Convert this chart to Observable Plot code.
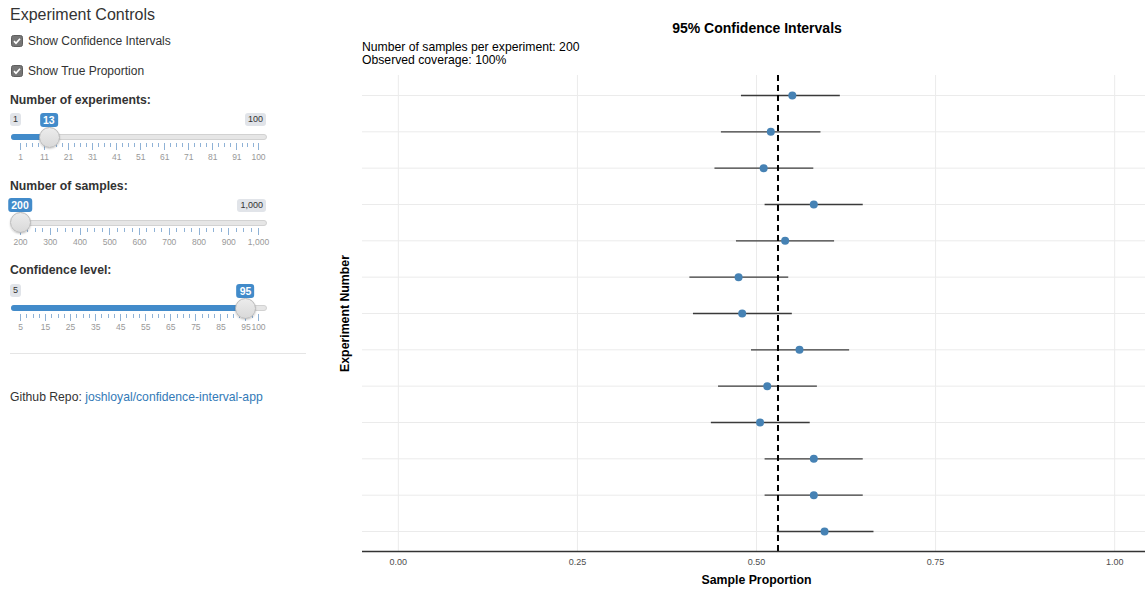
<!DOCTYPE html>
<html>
<head>
<meta charset="utf-8">
<script src="https://cdn.jsdelivr.net/npm/d3@7"></script>
<script src="https://cdn.jsdelivr.net/npm/@observablehq/plot@0.6"></script>
<style>
  body { margin:0; width:1145px; height:589px; overflow:hidden; background:#fff;
         font-family:"Liberation Sans", Arial, Helvetica, sans-serif; color:#333; position:relative; }
  .abs { position:absolute; white-space:nowrap; }
  .h { font-weight:bold; font-size:12.25px; line-height:16px; color:#333; }
  .box { position:absolute; height:13px; line-height:13px; font-size:9px; padding:0 3px; border-radius:3px;
         background:#e1e4e9; color:#333; }
  .box.val { background:#428bca; color:#fff; font-weight:bold; font-size:10.5px; height:14px; line-height:14px; }
  .track { position:absolute; height:6px; background:#e6e6e6; border:1px solid #d2d2d2; border-radius:4px; box-sizing:border-box; }
  .fill { position:absolute; height:6px; background:#428bca; border-radius:4px 0 0 4px; }
  .handle { position:absolute; width:21px; height:21px; border-radius:50%; border:1px solid #b8b8b8; box-sizing:border-box;
            background:linear-gradient(#ececec,#d9d9d9); box-shadow:0 1px 2px rgba(0,0,0,0.2); }
  .tick { position:absolute; width:1px; background:#8fb2d6; }
  .tl { position:absolute; font-size:8.5px; color:#999; line-height:10px; transform:translateX(-50%); }
  #chart svg { max-width:none; }
</style>
</head>
<body>
<div class="abs" style="left:10px;top:5px;font-size:16px;line-height:20px;color:#333;">Experiment Controls</div>
<svg class="abs" style="left:11px;top:35px" width="12" height="12"><rect x="0.5" y="0.5" width="11" height="11" rx="2" fill="#767676" stroke="#5e5e5e"/><path d="M3 6.2 L5 8.3 L9 3.8" fill="none" stroke="#fff" stroke-width="1.7"/></svg>
<div class="abs" style="left:28px;top:33px;font-size:12px;line-height:16px;">Show Confidence Intervals</div>
<svg class="abs" style="left:11px;top:64.5px" width="12" height="12"><rect x="0.5" y="0.5" width="11" height="11" rx="2" fill="#767676" stroke="#5e5e5e"/><path d="M3 6.2 L5 8.3 L9 3.8" fill="none" stroke="#fff" stroke-width="1.7"/></svg>
<div class="abs" style="left:28px;top:62.5px;font-size:12px;line-height:16px;">Show True Proportion</div>

<div class="abs h" style="left:10px;top:91.5px;">Number of experiments:</div>
<div class="abs h" style="left:10px;top:178px;">Number of samples:</div>
<div class="abs h" style="left:10px;top:262px;">Confidence level:</div>
<div id="sliders"></div>
<div class="abs" style="left:10px;top:353px;width:296px;border-top:1px solid #e5e5e5;"></div>
<div class="abs" style="left:10px;top:388.5px;font-size:12.2px;line-height:16px;">Github Repo: <span style="color:#337ab7">joshloyal/confidence-interval-app</span></div>

<div class="abs" style="left:757px;top:19px;transform:translateX(-50%);font-weight:bold;font-size:14px;line-height:18px;color:#000;">95% Confidence Intervals</div>
<div class="abs" style="left:362px;top:40.5px;font-size:12.2px;line-height:13px;color:#000;">Number of samples per experiment: 200<br>Observed coverage: 100%</div>
<div id="chart" class="abs" style="left:330px;top:65px;width:820px;height:524px;"></div>

<script>
// ---- chart data (experiment 1 at bottom) ----
const experiments = [1,2,3,4,5,6,7,8,9,10,11,12,13];
const proportions = [0.595,0.58,0.58,0.505,0.515,0.56,0.48,0.475,0.54,0.58,0.51,0.52,0.55];
const lower       = [0.529,0.512,0.512,0.437,0.447,0.493,0.412,0.407,0.472,0.512,0.442,0.451,0.479];
const upper       = [0.664,0.649,0.649,0.575,0.585,0.630,0.550,0.545,0.609,0.649,0.580,0.590,0.617];
const trueProportion = 0.53;
const xTicks = [0, 0.25, 0.5, 0.75, 1];

// ---- slider controls ----
const sliderExperiments = {min:1, max:100, value:13, labels:[1,11,21,31,41,51,61,71,81,91,100], minText:"1", maxText:"100", valText:"13"};
const sliderSamples = {min:200, max:1000, value:200, labels:[200,300,400,500,600,700,800,900,1000], minText:"200", maxText:"1,000", valText:"200"};
const sliderConfidence = {min:5, max:100, value:95, labels:[5,15,25,35,45,55,65,75,85,95,100], minText:"5", maxText:"100", valText:"95"};

function slider(cfg, boxY, trackY, tickY, labelY, hideMin, hideMax) {
  const root = document.getElementById("sliders");
  const pos = v => 20 + (v - cfg.min) / (cfg.max - cfg.min) * 238;
  const add = (html) => root.insertAdjacentHTML("beforeend", html);
  const hx = pos(cfg.value);
  add(`<div class="track" style="left:11px;width:256px;top:${trackY-3}px"></div>`);
  if (hx > 20) add(`<div class="fill" style="left:11px;width:${hx-11}px;top:${trackY-3}px"></div>`);
  const fmt = d3.format(",");
  for (let i = 0; i < cfg.labels.length; i++) {
    const v = cfg.labels[i], x = pos(v);
    add(`<div class="tick" style="left:${x}px;top:${tickY}px;height:7px"></div>`);
    add(`<div class="tl" style="left:${x+0.5}px;top:${labelY-5}px">${fmt(v)}</div>`);
    if (i < cfg.labels.length - 1) {
      const x2 = pos(cfg.labels[i+1]);
      const n = (x2 - x) > 15 ? 4 : 2;
      for (let k = 1; k < n; k++) add(`<div class="tick" style="left:${x + (x2-x)*k/n}px;top:${tickY}px;height:4px"></div>`);
    }
  }
  add(`<div class="handle" style="left:${hx-10}px;top:${trackY-10.5}px"></div>`);
  if (!hideMin) add(`<div class="box" style="left:10px;top:${boxY-6.5}px">${cfg.minText}</div>`);
  if (!hideMax) add(`<div class="box" style="right:${1145-266}px;top:${boxY-6.5}px">${cfg.maxText}</div>`);
  add(`<div class="box val" style="left:${hx}px;transform:translateX(-50%);top:${boxY-7}px">${cfg.valText}</div>`);
}
slider(sliderExperiments, 119.5, 137, 143, 157, false, false);
slider(sliderSamples, 205, 222.5, 228, 241.5, true, false);
slider(sliderConfidence, 290.5, 308, 313.5, 327, false, true);

// ---- chart ----
const data = experiments.map((e, i) => ({exp: e, p: proportions[i], lo: lower[i], hi: upper[i]}));

const chart = Plot.plot({
  width: 820, height: 524,
  marginLeft: 32, marginRight: 0, marginTop: 10, marginBottom: 38,
  x: {domain: [-0.05, 1.05], axis: null},
  y: {domain: [0.45, 13.55], axis: null},
  style: {fontFamily: "'Liberation Sans', Arial, sans-serif", fontSize: "9px", color: "#4d4d4d", background: "transparent", maxWidth: "none"},
  marks: [
    Plot.ruleX(xTicks, {stroke: "#ebebeb", strokeWidth: 1}),
    Plot.ruleY(experiments, {stroke: "#ebebeb", strokeWidth: 1}),
    Plot.ruleY(data, {y: "exp", x1: "lo", x2: "hi", stroke: "#3a3a3a", strokeWidth: 1.3}),
    Plot.ruleX([trueProportion], {stroke: "#000", strokeWidth: 2, strokeDasharray: "6,4"}),
    Plot.dot(data, {x: "p", y: "exp", r: 4, fill: "#4682b4", stroke: null}),
    Plot.ruleY([0.45], {stroke: "#333", strokeWidth: 1.3}),
    Plot.axisX(xTicks, {tickSize: 0, tickPadding: 7, tickFormat: d3.format(".2f"), fontSize: 9, label: null, fill: "#4d4d4d"}),
    Plot.text(["Sample Proportion"], {frameAnchor: "bottom", lineAnchor: "middle", dy: 29, fontWeight: "bold", fontSize: 12.3, fill: "#000", text: d => d}),
    Plot.text(["Experiment Number"], {frameAnchor: "left", textAnchor: "middle", lineAnchor: "middle", rotate: -90, dx: -17, fontWeight: "bold", fontSize: 12.3, fill: "#000", text: d => d})
  ]
});
document.getElementById("chart").appendChild(chart);
</script>
</body>
</html>
